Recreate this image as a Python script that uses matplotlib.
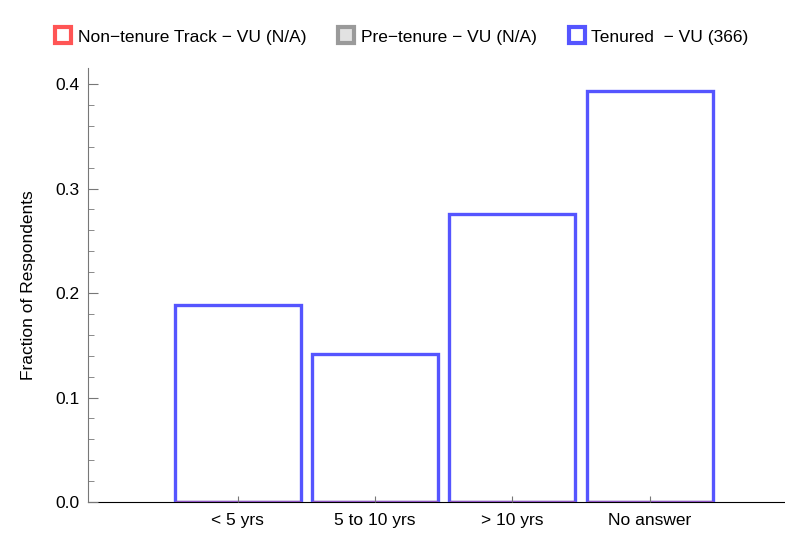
import matplotlib.pyplot as plt
from matplotlib.lines import Line2D
from matplotlib.ticker import MultipleLocator

plt.rcParams['font.family'] = ['Liberation Sans', 'DejaVu Sans']

kategorie = ['< 5 yrs', '5 to 10 yrs', '> 10 yrs', 'No answer']
non_tenure = [0, 0, 0, 0]
pre_tenure = [0, 0, 0, 0]
tenured = [0.1885, 0.1421, 0.2760, 0.3934]

serie = ['Non\u2212tenure Track \u2212 VU (N/A)', 'Pre\u2212tenure \u2212 VU (N/A)',
         'Tenured  \u2212 VU (366)']
kolory_krawedz = ['#ff5555', '#9a9a9a', '#5555ff']
kolory_wypelnienie = ['white', '#e2e2e2', 'white']

fig = plt.figure(figsize=(7.85, 5.36), dpi=100)
ax = fig.add_axes([0.1121, 0.0634, 0.888, 0.8097])

x = range(len(kategorie))
szer = 0.917
ax.bar(x, pre_tenure, width=szer, facecolor='none', edgecolor=kolory_krawedz[1], linewidth=2.4)
ax.bar(x, tenured, width=szer, facecolor='none', edgecolor=kolory_krawedz[2], linewidth=2.4)
ax.bar(x, non_tenure, width=szer, facecolor='none', edgecolor=kolory_krawedz[0], linewidth=2.4, alpha=0.35)

ax.set_xlim(-1.089, 3.987)
ax.set_ylim(0, 0.4153)

ax.set_xticks(list(x))
ax.set_xticklabels(kategorie, fontsize=12.5)
ax.tick_params(axis='x', direction='in', length=4, color='#777777', pad=8)

ax.yaxis.set_major_locator(MultipleLocator(0.1))
ax.yaxis.set_minor_locator(MultipleLocator(0.02))
ax.yaxis.set_major_formatter(lambda v, p: f'{v:.1f}')
ax.tick_params(axis='y', which='major', direction='in', length=7, color='#777777', labelsize=12.5, pad=6)
ax.tick_params(axis='y', which='minor', direction='in', length=4, color='#777777')

ax.spines['top'].set_visible(False)
ax.spines['right'].set_visible(False)
ax.spines['left'].set_color('#777777')
ax.spines['bottom'].set_color('black')
ax.spines['bottom'].set_zorder(0)

ax.set_ylabel('Fraction of Respondents', fontsize=12.5, labelpad=14)

uchwyty = [Line2D([], [], linestyle='none', marker='s', markersize=12, markeredgewidth=3,
                  markeredgecolor=k, markerfacecolor=f)
           for k, f in zip(kolory_krawedz, kolory_wypelnienie)]
fig.legend(uchwyty, serie, loc='center', bbox_to_anchor=(0.5115, 0.931), ncol=3,
           frameon=False, fontsize=12.5, handletextpad=0.35, columnspacing=1.8,
           handlelength=1.0)

plt.savefig('out.png')
